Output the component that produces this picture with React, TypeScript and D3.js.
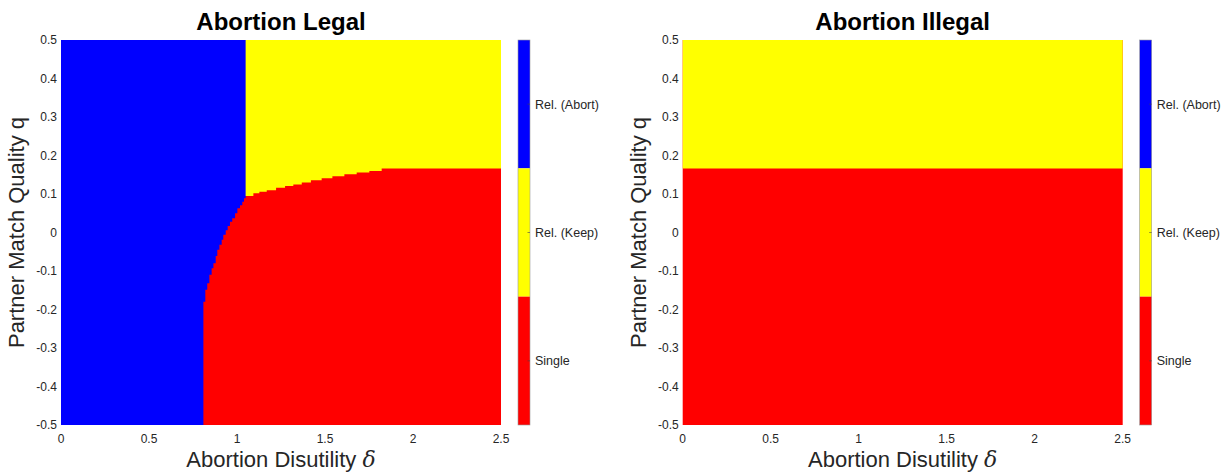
import React from "react";
import * as d3 from "d3";

// tick values
const deltaTicks = [0, 0.5, 1, 1.5, 2, 2.5];
const qTicks = [0.5, 0.4, 0.3, 0.2, 0.1, 0, -0.1, -0.2, -0.3, -0.4, -0.5];

// colorbar categories (top to bottom)
const regimes = ["Rel. (Abort)", "Rel. (Keep)", "Single"];
const regimeColors = ["#0000ff", "#ffff00", "#ff0000"];

// abortion legal: blue region edge, delta as a function of q (read top to bottom)
const abortQ = [0.5, 0.096, 0.089, 0.08, 0.071, 0.063, 0.05, 0.037, 0.028, 0.017, 0.006, -0.006, -0.019, -0.032, -0.045, -0.061, -0.08, -0.093, -0.11, -0.132, -0.149, -0.18, -0.5];
const abortDelta = [1.049, 1.049, 1.04, 1.03, 1.017, 1.002, 0.989, 0.973, 0.96, 0.947, 0.936, 0.922, 0.913, 0.9, 0.888, 0.879, 0.866, 0.856, 0.843, 0.831, 0.82, 0.809, 0.809];

// abortion legal: yellow / red edge, q as a function of delta
const keepDelta = [1.0, 1.093, 1.127, 1.169, 1.222, 1.273, 1.32, 1.368, 1.42, 1.481, 1.542, 1.61, 1.68, 1.752, 1.822, 2.5];
const keepQ = [0.095, 0.102, 0.106, 0.11, 0.116, 0.121, 0.125, 0.13, 0.136, 0.141, 0.146, 0.151, 0.156, 0.16, 0.166, 0.166];

// abortion illegal: yellow / red edge
const illegalDelta = [0, 2.5];
const illegalQ = [0.166, 0.166];

const FONT = "'Liberation Sans', Arial, Helvetica, sans-serif";
const TXT = "#262626";

type PanelProps = {
  left: number;
  title: string;
  keepD: number[];
  keepQv: number[];
  abortD?: number[];
  abortQv?: number[];
};

function Panel({ left, title, keepD, keepQv, abortD, abortQv }: PanelProps) {
  const top = 40, bottom = 425, width = 440;
  const x = d3.scaleLinear().domain([0, 2.5]).range([left, left + width]);
  const y = d3.scaleLinear().domain([-0.5, 0.5]).range([bottom, top]);

  const keepPts: [number, number][] = keepD.map((d, i) => [d, keepQv[i]]);
  const yellow = d3.area<[number, number]>()
    .x(d => x(d[0]))
    .y0(y(0.5))
    .y1(d => y(d[1]))
    .curve(d3.curveStepAfter)(keepPts);

  let blue: string | null = null;
  if (abortD && abortQv) {
    const pts: [number, number][] = [[0, 0.5], ...abortD.map((d, i) => [d, abortQv[i]] as [number, number]), [0, -0.5]];
    blue = d3.line<[number, number]>()
      .x(d => x(d[0]))
      .y(d => y(d[1]))
      .curve(d3.curveStepBefore)(pts) + "Z";
  }

  // colorbar
  const cbX = left + width + 17;
  const cbW = 12;
  const cb = d3.scaleBand<string>().domain(regimes).range([top, bottom]);
  const mid = (left + left + width) / 2;

  return (
    <g fontFamily={FONT}>
      <rect x={x(0)} y={top} width={width} height={bottom - top} fill="#ff0000" />
      <path d={yellow || ""} fill="#ffff00" />
      {blue && <path d={blue} fill="#0000ff" />}

      {qTicks.map(t => (
        <text key={"q" + t} x={left - 4} y={y(t)} dy="0.35em" textAnchor="end" fontSize={12} fill={TXT}>
          {t === 0 ? "0" : String(t)}
        </text>
      ))}
      {deltaTicks.map(t => (
        <text key={"d" + t} x={x(t)} y={443} textAnchor="middle" fontSize={12} fill={TXT}>
          {String(t)}
        </text>
      ))}

      <text x={mid} y={30} textAnchor="middle" fontSize={24} fontWeight="bold" fill="#000">{title}</text>
      <text x={mid} y={467} textAnchor="middle" fontSize={22} fill={TXT}>
        Abortion Disutility <tspan fontStyle="italic" fontFamily="'DejaVu Serif', serif">δ</tspan>
      </text>
      <text transform={`translate(${left - 37},${(top + bottom) / 2}) rotate(-90)`} textAnchor="middle" fontSize={22} fill={TXT}>
        Partner Match Quality q
      </text>

      {regimes.map((r, i) => (
        <rect key={r} x={cbX} y={cb(r)} width={cbW} height={cb.bandwidth()} fill={regimeColors[i]} />
      ))}
      <rect x={cbX} y={top} width={cbW} height={bottom - top} fill="none" stroke="#9a9a9a" strokeWidth={0.6} />
      {regimes.map(r => {
        const cy = (cb(r) || 0) + cb.bandwidth() / 2;
        return (
          <g key={"t" + r}>
            <line x1={cbX + cbW - 2.5} x2={cbX + cbW} y1={cy} y2={cy} stroke="#444" strokeWidth={0.6} />
            <text x={cbX + cbW + 5} y={cy} dy="0.35em" fontSize={12.5} fill={TXT}>{r}</text>
          </g>
        );
      })}
    </g>
  );
}

export default function App() {
  return (
    <svg width={1221} height={472} style={{ position: "absolute", left: 0, top: 0, background: "#fff" }}>
      <Panel left={61} title="Abortion Legal" keepD={keepDelta} keepQv={keepQ} abortD={abortDelta} abortQv={abortQ} />
      <Panel left={682.7} title="Abortion Illegal" keepD={illegalDelta} keepQv={illegalQ} />
    </svg>
  );
}
